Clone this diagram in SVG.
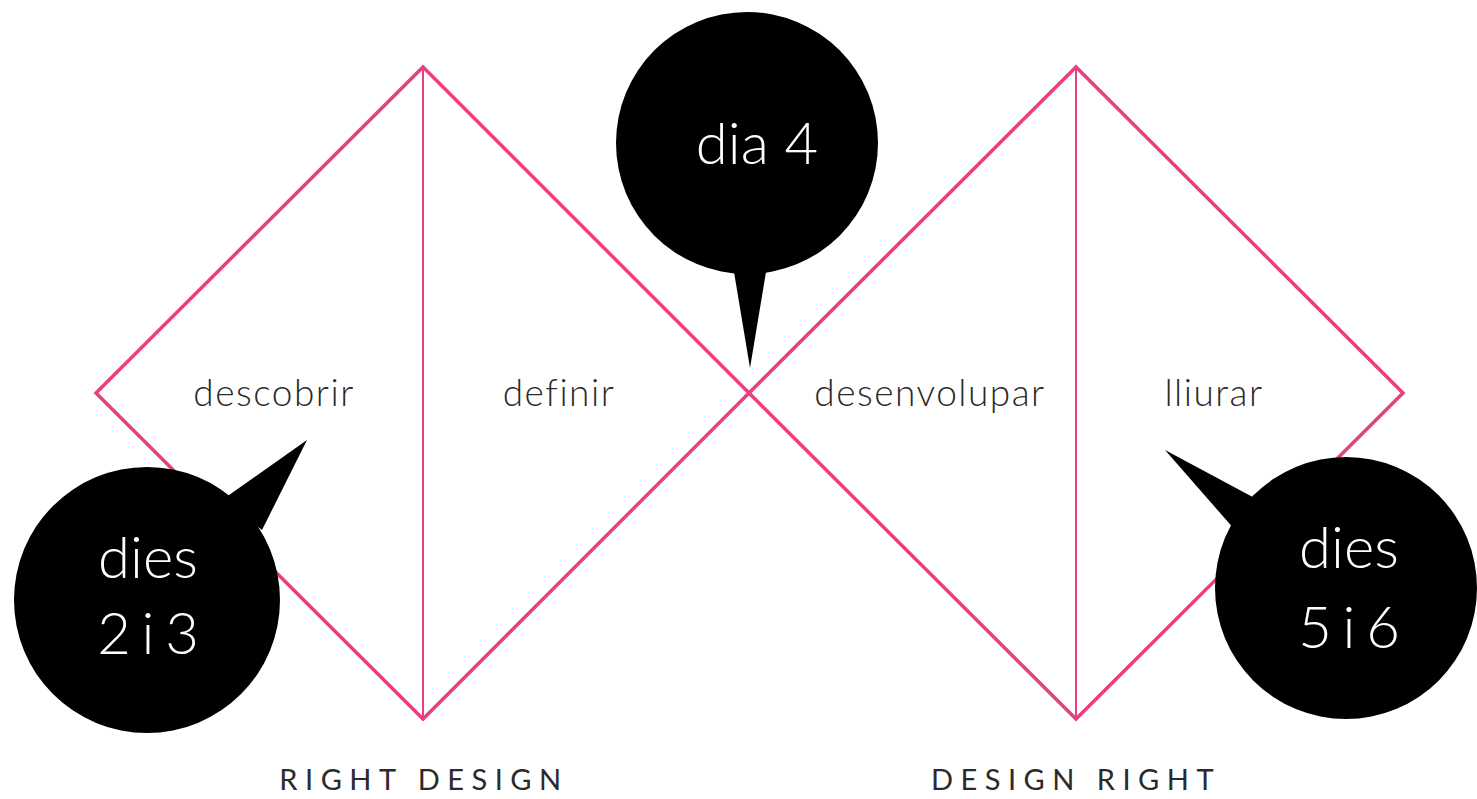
<svg xmlns="http://www.w3.org/2000/svg" width="1477" height="799" viewBox="0 0 1477 799">
<style>
.dia{fill:none;stroke:#e8407f;stroke-width:3.5;stroke-linejoin:miter}
.vl{stroke:#e8407f;stroke-width:2}
.lbl{font-family:Lato,"Open Sans",sans-serif;font-weight:300;font-size:37px;fill:#2a2a2a;text-anchor:middle;letter-spacing:1.5px}
.cap{font-family:Lato,"Open Sans",sans-serif;font-weight:400;font-size:29px;fill:#2a2a2a;text-anchor:middle;letter-spacing:7.5px}
.bub{fill:#000}
.bt{font-family:Lato,"Open Sans",sans-serif;font-weight:300;font-size:58px;fill:#fff;text-anchor:middle}
.tight{word-spacing:-5px}
</style>
<g id="connectors">
<path class="dia" d="M96 393 L423 67 L749 393 L423 719 Z"/>
<path class="dia" d="M749 393 L1076 67 L1403 393 L1076 719 Z"/>
<line class="vl" x1="423" y1="67" x2="423" y2="719"/>
<line class="vl" x1="1076" y1="67" x2="1076" y2="719"/>
</g>
<g id="descobrir"><text class="lbl" x="274" y="406">descobrir</text></g>
<g id="definir"><text class="lbl" x="559" y="406">definir</text></g>
<g id="desenvolupar"><text class="lbl" x="930" y="406">desenvolupar</text></g>
<g id="lliurar"><text class="lbl" x="1214" y="406">lliurar</text></g>
<g id="right-design"><text class="cap" x="424" y="790">RIGHT DESIGN</text></g>
<g id="design-right"><text class="cap" x="1076" y="790">DESIGN RIGHT</text></g>
<g id="bubble-dia4">
<circle class="bub" cx="747" cy="143" r="131"/>
<polygon class="bub" points="732,260 768,260 750,368"/>
<text class="bt" x="757" y="164">dia 4</text>
</g>
<g id="bubble-dies23">
<circle class="bub" cx="147" cy="600" r="133"/>
<polygon class="bub" points="222,500 262,530 307,440"/>
<text class="bt" x="148" y="578">dies</text>
<text class="bt tight" x="148" y="654">2 i 3</text>
</g>
<g id="bubble-dies56">
<circle class="bub" cx="1346" cy="588" r="131"/>
<polygon class="bub" points="1262,502 1235,530 1165,450"/>
<text class="bt" x="1349" y="568">dies</text>
<text class="bt tight" x="1349" y="648">5 i 6</text>
</g>
</svg>
